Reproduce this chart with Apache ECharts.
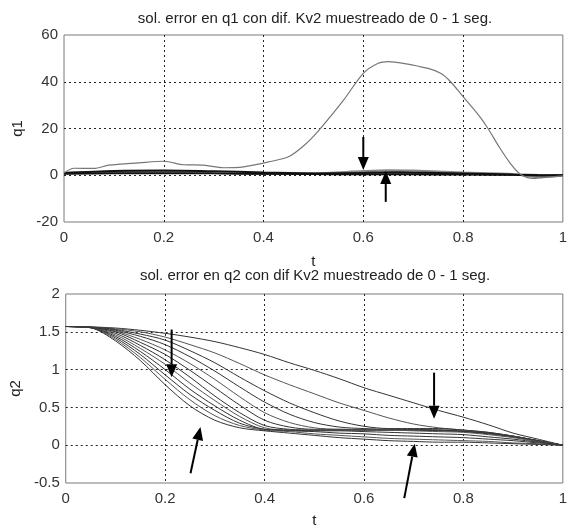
<!DOCTYPE html>
<html><head><meta charset="utf-8">
<script src="https://cdn.jsdelivr.net/npm/echarts@6/dist/echarts.min.js"></script>
<style>html,body{margin:0;padding:0;background:#fff}#c{width:570px;height:529px}</style>
</head><body><div id="c"></div>
<script>
// ---------- texts & ticks ----------
const title1 = 'sol. error en q1 con dif. Kv2 muestreado de 0 - 1 seg.';
const title2 = 'sol. error en q2 con dif Kv2 muestreado de 0 - 1 seg.';
const xName = 't';
const q1Name = 'q1';
const q2Name = 'q2';
const xRange = [0, 1, 0.2];
const q1Range = [-20, 60, 20];
const q2Range = [-0.5, 2, 0.5];

// ---------- top plot (q1) ----------
const q1MainT = [0,0.02,0.06,0.09,0.15,0.2,0.24,0.28,0.32,0.36,0.41,0.45,0.48,0.51,0.56,0.6,0.63,0.65,0.68,0.73,0.755,0.775,0.8,0.83,0.85,0.87,0.895,0.915,0.94,0.96,1];
const q1MainV = [1,3,2.9,4.3,5.3,6,4.5,4.3,3.2,3.6,5.7,7.9,12.5,19,32,43.6,47.9,48.6,47.9,45.7,43.6,40,33.6,26,20,12.9,5,0.4,-1.4,-1,-0.3];
const q1FlatT = [0,0.1,0.2,0.3,0.4,0.5,0.6,0.65,0.7,0.8,0.9,0.95,1];
const q1F1 = [1,1.8,2,1.7,1.2,0.8,1,1.3,1.2,0.8,0.3,0.1,0];
const q1F2 = [1,1.5,1.6,1.3,0.9,0.9,1.8,2.1,2,1.2,0.5,-0.8,-0.2];
const q1F3 = [0.5,0.7,0.8,0.7,0.6,0.4,0.3,0.3,0.3,0.2,0.1,0,0];
const q1F4 = [0.8,1.1,1.2,0.9,0.4,0.5,0.6,0.8,0.9,0.5,0.2,-0.3,0];
const q1Arrows = [[0.6,16.4,0.6,2.2],[0.645,-11.4,0.645,1.8]];

// ---------- bottom plot (q2) ----------
const q2T = [0,0.05,0.1,0.15,0.2,0.25,0.3,0.35,0.4,0.45,0.5,0.55,0.6,0.65,0.7,0.75,0.8,0.85,0.9,0.95,1];
const q2A = [1.57,1.565,1.55,1.52,1.48,1.43,1.37,1.29,1.2,1.09,0.99,0.88,0.76,0.66,0.56,0.46,0.37,0.27,0.16,0.08,0];
const q2B = [1.57,1.563,1.54,1.5,1.43,1.33,1.22,1.08,0.93,0.8,0.68,0.56,0.46,0.36,0.28,0.23,0.2,0.17,0.12,0.06,0];
const q2C = [1.57,1.562,1.53,1.47,1.39,1.25,1.09,0.9,0.72,0.56,0.43,0.32,0.25,0.22,0.22,0.22,0.2,0.17,0.12,0.06,0];
const q2D = [1.57,1.561,1.52,1.44,1.33,1.17,0.98,0.77,0.57,0.41,0.3,0.24,0.22,0.21,0.21,0.2,0.19,0.16,0.12,0.06,0];
const q2E = [1.57,1.56,1.51,1.4,1.26,1.08,0.87,0.64,0.43,0.3,0.23,0.21,0.21,0.21,0.2,0.2,0.19,0.16,0.12,0.06,0];
const q2F = [1.57,1.559,1.5,1.36,1.2,0.99,0.76,0.53,0.33,0.24,0.21,0.21,0.2,0.2,0.2,0.2,0.18,0.16,0.11,0.06,0];
const q2G = [1.57,1.558,1.48,1.32,1.13,0.9,0.65,0.43,0.26,0.21,0.2,0.2,0.2,0.2,0.2,0.19,0.18,0.15,0.11,0.05,0];
const q2H = [1.57,1.557,1.46,1.28,1.07,0.82,0.59,0.38,0.23,0.2,0.2,0.2,0.2,0.2,0.19,0.18,0.17,0.14,0.1,0.05,0];
const q2I = [1.57,1.556,1.44,1.24,1.0,0.74,0.52,0.33,0.21,0.2,0.19,0.19,0.18,0.17,0.16,0.15,0.14,0.11,0.08,0.04,0];
const q2J = [1.57,1.555,1.42,1.2,0.93,0.67,0.46,0.29,0.21,0.19,0.18,0.16,0.15,0.13,0.12,0.11,0.1,0.08,0.06,0.03,0];
const q2K = [1.57,1.554,1.4,1.16,0.87,0.6,0.39,0.26,0.2,0.18,0.15,0.13,0.11,0.09,0.08,0.07,0.06,0.05,0.03,0.02,0];
const q2L = [1.57,1.553,1.38,1.12,0.8,0.52,0.33,0.23,0.19,0.16,0.13,0.1,0.08,0.06,0.05,0.04,0.04,0.03,0.02,0.01,0];
const q2Curves = [q2A,q2B,q2C,q2D,q2E,q2F,q2G,q2H,q2I,q2J,q2K,q2L];
const q2Arrows = [[0.213,1.53,0.213,0.9],[0.251,-0.37,0.271,0.24],[0.741,0.96,0.741,0.35],[0.681,-0.70,0.702,0.02]];

// ---------- build ----------
const FONT = 'Liberation Sans, Arial, sans-serif';
const zip = (t, v) => t.map((x, i) => [x, v[i]]);
const chart = echarts.init(document.getElementById('c'), null, {renderer: 'canvas'});

function xAxisCfg(gi) {
  return {
    type: 'value', gridIndex: gi, min: xRange[0], max: xRange[1], interval: xRange[2],
    name: xName, nameLocation: 'middle', nameGap: gi === 0 ? 32 : 30,
    nameTextStyle: {fontFamily: FONT, fontSize: 15, color: '#222'},
    axisLine: {show: false, onZero: false}, axisTick: {show: false},
    axisLabel: {fontFamily: FONT, fontSize: 15, color: '#333', margin: 8},
    splitLine: {show: true, showMinLine: false, showMaxLine: false, lineStyle: {color: '#222', type: [2, 3], width: 1}}
  };
}
function yAxisCfg(gi, r, name) {
  return {
    type: 'value', gridIndex: gi, min: r[0], max: r[1], interval: r[2],
    name: name, nameLocation: 'middle', nameGap: 36, nameRotate: 90,
    nameTextStyle: {fontFamily: FONT, fontSize: 15, color: '#222'},
    axisLine: {show: false, onZero: false}, axisTick: {show: false},
    axisLabel: {fontFamily: FONT, fontSize: 15, color: '#333', margin: 6},
    splitLine: {show: true, showMinLine: false, showMaxLine: false, lineStyle: {color: '#222', type: [2, 3], width: 1}}
  };
}
function lineSeries(gi, data, color, width, z) {
  return {
    type: 'line', xAxisIndex: gi, yAxisIndex: gi, data: data, showSymbol: false, symbol: 'none',
    smooth: 0.3, lineStyle: {color: color, width: width}, z: z || 2,
    animation: false, silent: true
  };
}

const series = [];
series.push(lineSeries(0, zip(q1FlatT, q1F2), '#888', 2, 2));
series.push(lineSeries(0, zip(q1FlatT, q1F4), '#444', 1.5, 2));
series.push(lineSeries(0, zip(q1FlatT, q1F3), '#111', 1.5, 2));
series.push(lineSeries(0, zip(q1FlatT, q1F1), '#111', 2, 2));
series.push(lineSeries(0, zip(q1MainT, q1MainV), '#777', 1.2, 3));
q2Curves.forEach((c, i) => series.push(lineSeries(1, zip(q2T, c), i % 3 === 1 ? '#555' : '#333', 1, 2)));

chart.setOption({
  animation: false,
  backgroundColor: '#fff',
  textStyle: {fontFamily: FONT},
  title: [
    {text: title1, left: 315, top: 11, textAlign: 'center', padding: 0,
     textStyle: {fontFamily: FONT, fontSize: 15, fontWeight: 'normal', color: '#222'}},
    {text: title2, left: 315, top: 268, textAlign: 'center', padding: 0,
     textStyle: {fontFamily: FONT, fontSize: 15, fontWeight: 'normal', color: '#222'}}
  ],
  grid: [
    {left: 64, top: 35, width: 502, height: 187, show: true, borderColor: '#7a7a7a', borderWidth: 1, containLabel: false},
    {left: 64, top: 294, width: 502, height: 191, show: true, borderColor: '#7a7a7a', borderWidth: 1, containLabel: false}
  ],
  xAxis: [xAxisCfg(0), xAxisCfg(1)],
  yAxis: [yAxisCfg(0, q1Range, q1Name), yAxisCfg(1, q2Range, q2Name)],
  series: series
});

// arrows drawn via the chart's own coordinate conversion
function arrowGraphics(gi, list) {
  const out = [];
  list.forEach(a => {
    const p1 = chart.convertToPixel({gridIndex: gi}, [a[0], a[1]]);
    const p2 = chart.convertToPixel({gridIndex: gi}, [a[2], a[3]]);
    const dx = p2[0] - p1[0], dy = p2[1] - p1[1];
    const len = Math.sqrt(dx * dx + dy * dy);
    const ux = dx / len, uy = dy / len;
    const hl = 13, hw = 5.5;
    const bx = p2[0] - ux * hl, by = p2[1] - uy * hl;
    out.push({type: 'line', shape: {x1: p1[0], y1: p1[1], x2: bx, y2: by},
      style: {stroke: '#000', lineWidth: 2}, z: 100});
    out.push({type: 'polygon', shape: {points: [[p2[0], p2[1]], [bx - uy * hw, by + ux * hw], [bx + uy * hw, by - ux * hw]]},
      style: {fill: '#000'}, z: 100});
  });
  return out;
}
chart.setOption({graphic: arrowGraphics(0, q1Arrows).concat(arrowGraphics(1, q2Arrows))});
</script>
</body></html>
